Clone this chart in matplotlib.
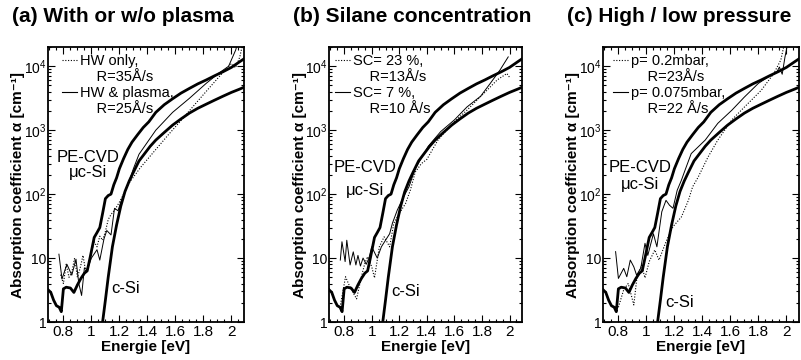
import numpy as np
import matplotlib
matplotlib.use('Agg')
import matplotlib.pyplot as plt
from matplotlib.lines import Line2D
from matplotlib.ticker import FixedLocator, FixedFormatter, LogLocator, NullFormatter

plt.rcParams['font.family'] = ['Liberation Sans', 'DejaVu Sans']
plt.rcParams['mathtext.fontset'] = 'custom'
plt.rcParams['mathtext.rm'] = 'Liberation Sans'
plt.rcParams['mathtext.it'] = 'Liberation Sans:italic'
plt.rcParams['mathtext.bf'] = 'Liberation Sans:bold'

# reference curves, same in every panel
pecvd_E = [0.69, 0.71, 0.73, 0.75, 0.77, 0.785, 0.80, 0.82, 0.85, 0.875, 0.90, 0.925, 0.95, 0.97,
           0.99, 1.02, 1.04, 1.06, 1.08, 1.10, 1.12, 1.14, 1.16, 1.18, 1.20, 1.23, 1.26, 1.29,
           1.33, 1.37, 1.41, 1.46, 1.52, 1.58, 1.64, 1.70, 1.76, 1.82, 1.88, 1.94, 2.00, 2.06, 2.10]
pecvd_a = [3.2, 2.9, 2.2, 1.8, 1.7, 1.45, 3.3, 3.5, 3.4, 2.9, 3.8, 4.8, 5.8, 6.3,
           10, 21, 25, 30, 50, 85, 95, 100, 140, 180, 250, 360, 500, 650,
           850, 1100, 1350, 1900, 2500, 3100, 3800, 4500, 5300, 6100, 7100, 8200, 9600, 11800, 13500]

csi_E = [1.08, 1.10, 1.12, 1.15, 1.18, 1.21, 1.24, 1.27, 1.30, 1.34, 1.38, 1.42, 1.46, 1.52,
         1.58, 1.64, 1.70, 1.76, 1.82, 1.88, 1.94, 2.00, 2.06, 2.10]
csi_a = [1.0, 2.2, 5, 15, 33, 65, 110, 160, 220, 330, 430, 560, 700, 920,
         1200, 1500, 1850, 2200, 2550, 2950, 3400, 3900, 4400, 4800]

# (a) with or w/o plasma
hw_only_E = [0.78, 0.80, 0.82, 0.84, 0.86, 0.88, 0.90, 0.92, 0.94, 0.96, 0.98, 1.00, 1.02, 1.04,
             1.06, 1.08, 1.10, 1.12, 1.14, 1.17, 1.20, 1.24, 1.27, 1.35, 1.45, 1.55, 1.65, 1.75,
             1.85, 1.95, 2.00, 2.03, 2.06, 2.08]
hw_only_a = [5.5, 4, 8, 5, 6, 10, 5, 7, 11, 6, 8, 12, 18, 15,
             22, 19, 26, 40, 48, 58, 75, 110, 150, 260, 470, 850, 1500, 2700,
             4800, 8500, 11000, 9500, 14000, 22000]
hw_plasma_E = [0.768, 0.79, 0.825, 0.86, 0.89, 0.91, 0.93, 0.95, 0.97, 1.00, 1.04, 1.06, 1.09,
               1.11, 1.14, 1.165, 1.19, 1.21, 1.24, 1.27, 1.30, 1.34, 1.46, 1.58, 1.70, 1.82,
               1.91, 1.98, 2.03, 2.06]
hw_plasma_a = [11.5, 4.7, 8, 5.4, 9.6, 4, 2.6, 7, 6.5, 10, 13.5, 9.3, 20,
               27, 23, 60, 55, 75, 110, 160, 250, 420, 1000, 1900, 3150, 5400,
               7800, 10000, 17800, 30000]

# (b) silane concentration
sc23_E = [0.77, 0.81, 0.84, 0.89, 0.925, 0.95, 0.97, 1.00, 1.02, 1.055, 1.09, 1.13, 1.16,
          1.20, 1.245, 1.28, 1.315, 1.36, 1.40, 1.48, 1.59, 1.69, 1.81, 1.91, 1.98, 2.00]
sc23_a = [1.7, 5.1, 3.6, 2.3, 5.1, 8.3, 10.5, 7.3, 4.9, 15, 21.5, 15, 35,
          50, 71, 115, 220, 300, 350, 700, 1300, 2050, 3700, 6100, 7700, 6700]
sc7_E = [0.772, 0.784, 0.807, 0.819, 0.843, 0.866, 0.885, 0.90, 0.918, 0.937, 0.96, 0.98, 1.00,
         1.04, 1.07, 1.10, 1.13, 1.15, 1.185, 1.23, 1.27, 1.315, 1.41, 1.50, 1.60, 1.69, 1.79,
         1.86, 1.93, 1.99]
sc7_a = [9.3, 18, 8.8, 19, 7.8, 12.5, 7.8, 11, 7.5, 10, 8, 10, 15,
         10, 15, 19, 24, 35, 56, 90, 130, 250, 560, 950, 1450, 2300, 3400,
         5400, 8700, 14000]

# (c) high / low pressure
p02_E = [0.80, 0.838, 0.87, 0.91, 0.93, 0.965, 0.99, 1.02, 1.06, 1.09, 1.14, 1.19, 1.25, 1.30,
         1.33, 1.37, 1.44, 1.51, 1.61, 1.70, 1.82, 1.91, 1.96, 1.99]
p02_a = [1.7, 3.2, 4, 1.85, 4.5, 7.8, 4.9, 8.8, 13.4, 9.3, 18, 31, 44, 80,
         130, 185, 380, 700, 1450, 2300, 4200, 7700, 12500, 25000]
p075_E = [0.78, 0.80, 0.838, 0.86, 0.885, 0.91, 0.93, 0.96, 0.99, 1.01, 1.05, 1.075, 1.11, 1.14,
          1.165, 1.19, 1.22, 1.25, 1.28, 1.32, 1.42, 1.51, 1.61, 1.70, 1.80, 1.87, 1.93, 1.95,
          1.97, 1.99, 2.02]
p075_a = [12.6, 4.8, 6.9, 5.1, 9.3, 7.3, 5.4, 7, 17, 11, 24, 15, 53, 80,
          67, 60, 115, 165, 250, 430, 700, 1280, 2050, 3300, 5400, 6800, 8000, 9700,
          7500, 14000, 30000]

titles = ['(a) With or w/o plasma', '(b) Silane concentration', '(c) High / low pressure']
dotted_labels = [('HW only,', 'R=35Å/s'), ('SC= 23 %,', 'R=13Å/s'), ('p= 0.2mbar,', 'R=23Å/s')]
solid_labels = [('HW & plasma,', 'R=25Å/s'), ('SC= 7 %,', 'R=10 Å/s'), ('p= 0.075mbar,', 'R=22 Å/s')]
dotted_data = [(hw_only_E, hw_only_a), (sc23_E, sc23_a), (p02_E, p02_a)]
solid_data = [(hw_plasma_E, hw_plasma_a), (sc7_E, sc7_a), (p075_E, p075_a)]

xticks = [0.8, 1.0, 1.2, 1.4, 1.6, 1.8, 2.0]
xticklabels = ['0.8', '1', '1.2', '1.4', '1.6', '1.8', '2']
yticks = [1, 10, 100, 1000, 10000]
yticklabels = ['1', '10', '10$^2$', '10$^3$', '10$^4$']

# layout in pixels (figure 801 x 360)
W, H = 801, 360
ax_left = [48, 329, 603]
ax_width = [196, 193, 196]
leg_x = [14, 6, 10]
pecvd_pos = [(0.975, 380, 215), (0.95, 260, 115), (0.955, 260, 140)]
csi_pos = [(1.245, 3.3), (1.245, 2.95), (1.235, 2.0)]

fig = plt.figure(figsize=(W / 100, H / 100), dpi=100)

for i in range(3):
    ax = fig.add_axes([ax_left[i] / W, 38 / H, ax_width[i] / W, 275 / H])
    ax.set_yscale('log')

    ax.plot(pecvd_E, pecvd_a, color='k', lw=2.0, solid_joinstyle='round')
    ax.plot(csi_E, csi_a, color='k', lw=2.0, solid_joinstyle='round')
    ax.plot(*dotted_data[i], color='k', lw=0.8, ls=(0, (1, 1.5)))
    ax.plot(*solid_data[i], color='k', lw=0.7)

    ax.set_xlim(0.69, 2.09)
    ax.set_ylim(1, 2e4)

    ax.xaxis.set_major_locator(FixedLocator(xticks))
    ax.xaxis.set_major_formatter(FixedFormatter(xticklabels))
    ax.xaxis.set_minor_locator(FixedLocator(np.arange(0.7, 2.11, 0.05)))
    ax.yaxis.set_major_locator(FixedLocator(yticks))
    ax.yaxis.set_major_formatter(FixedFormatter(yticklabels))
    ax.yaxis.set_minor_locator(LogLocator(base=10, subs=np.arange(2, 10), numticks=20))
    ax.yaxis.set_minor_formatter(NullFormatter())
    ax.tick_params(which='both', direction='in', top=True, right=True, width=0.8)
    ax.tick_params(which='major', length=5)
    ax.tick_params(which='minor', length=2.5)
    ax.tick_params(axis='x', pad=2, labelsize=11)
    ax.tick_params(axis='y', pad=1, labelsize=10)
    for s in ax.spines.values():
        s.set_linewidth(1.3)

    ax.set_xlabel('Energie [eV]', fontsize=11, fontweight='bold')
    ax.xaxis.set_label_coords(0.5, -0.065)
    ax.set_ylabel('Absorption coefficient α [cm⁻¹]', fontsize=11, fontweight='bold')
    ax.yaxis.set_label_coords(-0.115, 0.5)

    handles = [Line2D([], [], color='k', lw=0.8, ls=(0, (1, 1.5))),
               Line2D([], [], color='none'),
               Line2D([], [], color='k', lw=0.8),
               Line2D([], [], color='none')]
    labels = [dotted_labels[i][0], '    ' + dotted_labels[i][1],
              solid_labels[i][0], '    ' + solid_labels[i][1]]
    ax.legend(handles, labels, loc='upper left', bbox_to_anchor=(leg_x[i] / ax_width[i], 0.975),
              frameon=False, fontsize=10.5, handlelength=1.05, handletextpad=0.2,
              labelspacing=0.15, borderpad=0, borderaxespad=0)

    ex, ey1, ey2 = pecvd_pos[i]
    ax.text(ex, ey1, 'PE-CVD', fontsize=12, ha='center', va='center')
    ax.text(ex, ey2, 'μc-Si', fontsize=12, ha='center', va='center')
    ax.text(csi_pos[i][0], csi_pos[i][1], 'c-Si', fontsize=12, ha='center', va='center')

    fig.text((ax_left[i] - 36) / W, 1 - 22 / H, titles[i], fontsize=15, fontweight='bold',
             ha='left', va='baseline')

fig.savefig('out.png', dpi=100)
